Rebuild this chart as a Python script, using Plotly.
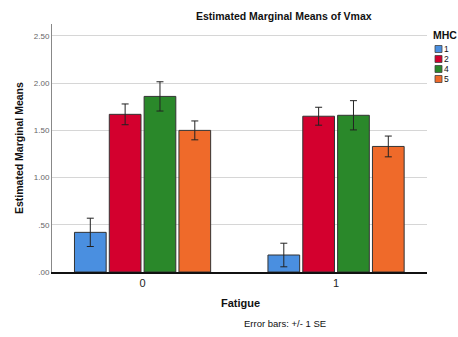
import plotly.graph_objects as go

fatigue = ["0", "1"]
mhc_levels = ["1", "2", "4", "5"]
means = {
    "1": [0.42, 0.18],
    "2": [1.67, 1.65],
    "4": [1.86, 1.66],
    "5": [1.50, 1.33],
}
se = {
    "1": [0.15, 0.125],
    "2": [0.11, 0.095],
    "4": [0.155, 0.155],
    "5": [0.10, 0.11],
}
colors = {"1": "#4A8FE0", "2": "#D3002E", "4": "#2A882A", "5": "#EF6A2A"}
yticks = [0, 0.5, 1.0, 1.5, 2.0, 2.5]
ytick_text = [".00", ".50", "1.00", "1.50", "2.00", "2.50"]

W, H = 458, 337
L, R, T, B = 52, 31, 24, 65
PW, PH = W - L - R, H - T - B


def px(x):
    return (x - L) / PW


def py(y):
    return (H - B - y) / PH


fig = go.Figure()
for m in mhc_levels:
    fig.add_trace(go.Bar(
        x=fatigue, y=means[m], name=m,
        marker=dict(color=colors[m], line=dict(color="#333333", width=1)),
        error_y=dict(type="data", array=se[m], visible=True,
                     color="#222222", thickness=1, width=3.5),
        showlegend=False,
    ))

annotations = [
    dict(text="<b>Estimated Marginal Means of Vmax</b>", x=px(284), y=py(16),
         xref="paper", yref="paper", showarrow=False, xanchor="center", yanchor="middle",
         font=dict(size=10.5, color="#111")),
    dict(text="<b>Estimated Marginal Means</b>", x=px(19), y=py(148),
         xref="paper", yref="paper", showarrow=False, textangle=-90,
         xanchor="center", yanchor="middle", font=dict(size=10.5, color="#111")),
    dict(text="<b>Fatigue</b>", x=px(240), y=py(303),
         xref="paper", yref="paper", showarrow=False, xanchor="center", yanchor="middle",
         font=dict(size=11, color="#111")),
    dict(text="Error bars: +/- 1 SE", x=px(285), y=py(323),
         xref="paper", yref="paper", showarrow=False, xanchor="center", yanchor="middle",
         font=dict(size=9.5, color="#111")),
    dict(text="<b>MHC</b>", x=px(431), y=py(35),
         xref="paper", yref="paper", showarrow=False, xanchor="left", yanchor="middle",
         font=dict(size=10.5, color="#111")),
]
shapes = []
for i, m in enumerate(mhc_levels):
    cy = 49 + i * 10
    shapes.append(dict(type="rect", xref="paper", yref="paper",
                       x0=px(435), x1=px(442), y0=py(cy + 3.5), y1=py(cy - 3.5),
                       fillcolor=colors[m], line=dict(color="#444", width=0.8)))
    annotations.append(dict(text=m, x=px(443), y=py(cy), xref="paper", yref="paper",
                            showarrow=False, xanchor="left", yanchor="middle",
                            borderpad=0, font=dict(size=8.5, color="#111")))

fig.update_layout(
    width=W, height=H,
    margin=dict(l=L, r=R, t=T, b=B, autoexpand=False),
    paper_bgcolor="white", plot_bgcolor="white",
    barmode="group", bargap=0.28, bargroupgap=0.09,
    font=dict(family="Liberation Sans, Arial, sans-serif"),
    annotations=annotations, shapes=shapes,
    xaxis=dict(type="category", range=[-0.468, 1.47], showline=True,
               linecolor="#111", linewidth=2, ticks="", showgrid=False,
               tickfont=dict(size=11, color="#222"), zeroline=False),
    yaxis=dict(range=[0, 2.627], tickvals=yticks, ticktext=ytick_text,
               showline=True, linecolor="#888", linewidth=1, showgrid=True,
               gridcolor="#d6d6d6", gridwidth=1, zeroline=False, ticks="",
               tickfont=dict(size=8, color="#666")),
)

fig.write_html("out.html")
